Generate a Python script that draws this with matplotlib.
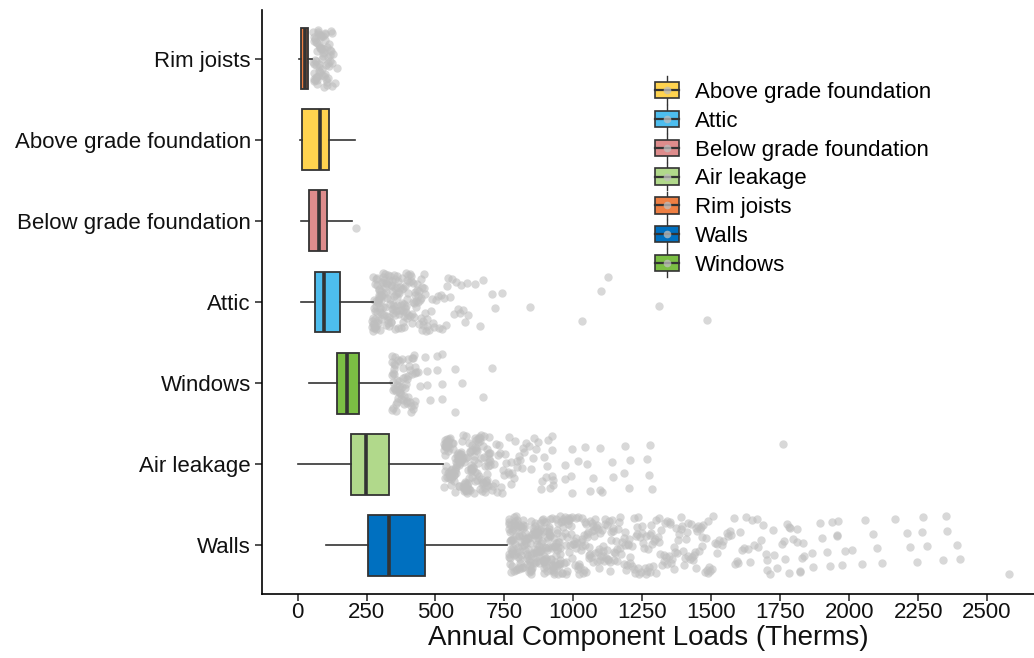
import numpy as np
import matplotlib.pyplot as plt
from matplotlib.patches import Rectangle, Patch
from matplotlib.lines import Line2D
from matplotlib.legend_handler import HandlerBase

plt.rcParams['font.family'] = ['Liberation Sans', 'DejaVu Sans']

# categories from bottom to top
components = ['Walls', 'Air leakage', 'Windows', 'Attic',
              'Below grade foundation', 'Above grade foundation', 'Rim joists']

# box summary (therms)
whisker_low = [102, 0, 43, 14, 13, 7, 4]
q1 = [257, 193, 142, 63, 40, 15, 12]
median = [333, 247, 178, 94, 77, 82, 28]
q3 = [461, 331, 224, 152, 108, 114, 37]
whisker_high = [761, 526, 341, 272, 198, 208, 54]

# points beyond the whiskers
walls_out = [
    768, 802, 777, 841, 790, 815, 772, 833, 796, 849, 781, 808, 765, 826, 799, 844, 786, 771, 812, 838,
    793, 779, 821, 805, 847, 767, 788, 830, 775, 817, 843, 798, 784, 810, 770, 836, 792, 823, 780, 846,
    801, 774, 828, 789, 813, 766, 840, 795, 819, 783, 834, 807, 776, 848, 791, 824, 769, 816, 803, 837,
    862, 915, 878, 951, 893, 987, 870, 934, 905, 968, 856, 922, 889, 975, 941, 867, 898, 959, 912, 881,
    996, 929, 853, 946, 874, 903, 962, 885, 937, 918, 990, 866, 951, 894, 979, 908, 858, 925, 943, 871,
    984, 899, 956, 915, 880, 933, 969, 862, 905, 948, 887, 992, 921, 874, 964, 939, 897, 856, 982, 910,
    928, 869, 953, 891, 973, 917, 944, 878, 998, 902, 960, 883, 936, 864, 977, 912, 949, 895, 926, 859,
    773, 809, 845, 787, 822, 765, 851, 798, 834, 779, 816, 862, 903, 877, 941, 892, 958, 869, 927, 985,
    914, 883, 966, 937, 855, 899, 972, 921, 861, 945, 888, 994, 906, 876, 953, 930, 868, 987, 918, 895,
    782, 827, 771, 839, 794, 811, 767, 848, 800, 825, 786, 842, 806, 775, 832, 797, 818, 780, 850, 804,
    879, 931, 865, 947, 901, 976, 884, 923, 957, 871, 939, 896, 981, 913, 860, 950, 890, 968, 907, 934,
    1008, 1052, 1031, 1087, 1015, 1068, 1043, 1096, 1022, 1075, 1004, 1058, 1036, 1091, 1012, 1064,
    1047, 1081, 1027, 1099, 1039, 1071, 1002, 1055, 1018, 1085, 1033, 1062, 1093, 1045, 1009, 1078,
    1024, 1067, 1050, 1089, 1016, 1041, 1073, 1029,
    1006, 1061, 1037, 1094, 1019, 1079, 1048, 1011, 1070, 1030, 1098, 1056,
    1112, 1168, 1135, 1214, 1149, 1238, 1103, 1186, 1127, 1223, 1161, 1197, 1118, 1245, 1142, 1176,
    1207, 1131, 1229, 1156, 1109, 1191, 1248, 1138, 1172, 1218, 1123, 1203, 1152, 1234, 1115, 1182,
    1146, 1211, 1164, 1241, 1106, 1195, 1129, 1226,
    1121, 1183, 1140, 1232, 1159, 1204, 1114, 1247, 1170, 1133, 1221, 1188, 1107, 1158, 1236, 1145,
    1199, 1126,
    1262, 1318, 1285, 1357, 1301, 1389, 1254, 1336, 1276, 1372, 1309, 1345, 1268, 1394, 1292, 1327,
    1363, 1281, 1381, 1314, 1258, 1349, 1296, 1377, 1273, 1332, 1306, 1368, 1287, 1352, 1264, 1398,
    1322, 1341, 1279,
    1271, 1338, 1299, 1384, 1256, 1354, 1312, 1283, 1366, 1329, 1390,
    1412, 1468, 1435, 1506, 1449, 1537, 1421, 1489, 1458, 1521, 1404, 1476, 1443, 1512, 1429, 1497,
    1462, 1544, 1417, 1483, 1452, 1528, 1438, 1502, 1471, 1409, 1519, 1446,
    1427, 1479, 1441, 1493, 1415, 1466, 1455, 1402, 1487,
    1562, 1611, 1587, 1648, 1573, 1632, 1598, 1664, 1556, 1619, 1641, 1581, 1605, 1670, 1593, 1626,
    1567, 1655,
    1701, 1713, 1725, 1756, 1768, 1780, 1810, 1834, 1828, 1822, 1786, 1812, 1836, 1820, 1782, 1762,
    1727, 1703, 1689, 1679, 1699, 1737, 1774, 1798, 1864, 1870, 1895, 1901, 1919, 1931, 1937, 1955,
    1985, 1973, 1961, 1957, 2009, 2046, 2058, 2088, 2100, 2118, 2166, 2209, 2221, 2245, 2266, 2263,
    2281, 2339, 2350, 2354, 2390, 2402, 2581,
]
air_out = [
    533, 571, 548, 602, 559, 615, 540, 589, 566, 607, 536, 580, 553, 619, 544, 596, 575, 531, 563, 611,
    550, 585, 538, 599, 569, 614, 546, 577, 557, 604, 534, 592, 561, 617, 542, 583, 573, 608, 551, 594,
    537, 566, 612, 545, 587, 556, 601, 532, 579, 548, 616, 564, 590, 541, 605,
    539, 576, 552, 609, 534, 593, 567, 620, 547, 583, 558, 603, 531, 572, 544, 598, 561, 613, 536, 586,
    543, 581, 618, 557, 597, 535, 571, 610, 549, 588,
    628, 671, 645, 693, 637, 682, 659, 624, 689, 651, 676, 633, 697, 664, 641, 685, 655, 622, 679, 648,
    691, 631, 668, 643, 699, 657, 626, 674, 639, 687, 662, 634, 695, 649, 681, 623, 666, 644, 692, 653,
    677, 629, 686, 660, 638,
    632, 669, 648, 690, 627, 673, 655, 696, 636, 684, 661, 625, 678, 642, 694, 652, 630, 688, 665, 646,
    712, 785, 741, 863, 756, 902, 724, 817, 772, 921, 705, 839, 795, 748, 881, 732, 806, 766, 915, 719,
    852, 779, 737, 828, 893, 762, 709, 871, 801, 744, 926, 789, 727, 846, 774, 907, 753, 812, 716, 858,
    733, 797, 887, 768, 822,
    905, 927, 921, 923, 970, 971, 994, 996, 1048, 1072, 1102, 1096, 1139, 1142, 1060, 1042, 1018, 993,
    1097, 1187, 1205, 1274, 1284, 1278, 1267, 1184, 1202, 1760,
]
windows_out = [
    343, 371, 356, 402, 348, 389, 362, 417, 345, 378, 395, 352, 428, 367, 384, 341, 409, 359, 374, 421,
    349, 392, 365, 413, 381, 346, 399, 357, 425, 369, 387, 344, 405, 361, 376, 418, 353, 396, 372, 347,
    350, 383, 366, 410, 342, 391, 358, 422, 373, 401, 345, 386, 363, 415, 354, 397, 377, 427, 348, 408,
    414, 438, 444, 426, 462, 468, 468, 480, 505, 505, 523, 523, 523, 571, 595, 674, 571, 704,
]
attic_out = [
    274, 318, 291, 352, 283, 337, 302, 366, 278, 325, 296, 345, 271, 311, 359, 288, 331, 306, 348, 280,
    322, 364, 294, 341, 276, 314, 357, 299, 329, 285, 368, 308, 339, 272, 319, 350, 290, 334, 303, 362,
    281, 327, 297, 346, 275, 316, 355, 293, 333, 310, 361, 284, 323, 300, 343, 277, 313, 353, 289, 336,
    305, 365, 282, 326, 298,
    279, 321, 295, 358, 286, 342, 307, 369, 273, 330, 301, 347, 292, 354, 312, 276, 338, 287, 363, 317,
    270, 309, 344, 283, 328, 360, 296, 335, 304, 351,
    378, 421, 395, 458, 384, 437, 409, 466, 373, 428, 401, 451, 389, 443, 414, 376, 432, 398, 461, 386,
    419, 447, 392, 469, 405, 436, 381, 454, 411, 427, 374, 440, 397, 463, 388, 416, 449, 402, 431, 383,
    380, 426, 393, 455, 412, 441, 375, 468, 399, 433, 387, 446, 408, 460, 379, 422, 394, 452, 417, 385,
    478, 541, 502, 619, 523, 594, 486, 567, 512, 644, 531, 589, 495, 613, 552, 482, 662, 574, 508, 601,
    537, 674, 519, 583, 491, 559, 704, 716, 606, 547,
    740, 841, 1030, 1127, 1100, 1311, 1484,
]
below_out = [212]
above_out = []
rim_out = [
    58, 84, 71, 103, 64, 92, 117, 77, 60, 98, 86, 112, 69, 123, 81, 57, 95, 74, 108, 66,
    89, 120, 79, 62, 101, 73, 115, 87, 59, 96, 70, 110, 83, 126, 65, 93, 76, 105, 61, 118,
    88, 72, 99, 130, 142, 134,
    63, 91, 78, 106, 58, 97, 114, 70, 85, 121, 67, 102, 80, 94, 60, 111, 75, 89, 124, 68,
    100, 82, 116, 73, 57,
]
outliers = [walls_out, air_out, windows_out, attic_out, below_out, above_out, rim_out]

colors = {
    'Above grade foundation': '#FFD34F',
    'Attic': '#4DBDEE',
    'Below grade foundation': '#DE8C8C',
    'Air leakage': '#B1D98B',
    'Rim joists': '#EE7F43',
    'Walls': '#0070C0',
    'Windows': '#7BBF44',
}
legend_order = ['Above grade foundation', 'Attic', 'Below grade foundation',
                'Air leakage', 'Rim joists', 'Walls', 'Windows']

edge = '#333333'
point_col = '#BEBEBE'


def jitter(n, start):
    # evenly spread vertical offsets
    k = np.arange(n)
    return ((k * 0.7548776662 + start) % 1.0 - 0.5) * 0.72


class BoxKey(HandlerBase):
    def create_artists(self, legend, orig_handle, xdescent, ydescent,
                       width, height, fontsize, trans):
        x0, y0 = -xdescent, -ydescent
        cx, cy = x0 + width / 2, y0 + height / 2
        whisk = Line2D([cx, cx], [y0 - 0.35 * height, y0 + 1.35 * height],
                       color=edge, lw=1.0, transform=trans)
        box = Rectangle((x0, y0), width, height, facecolor=orig_handle.get_facecolor(),
                        edgecolor=edge, lw=1.2, transform=trans)
        med = Line2D([x0, x0 + width], [cy, cy], color=edge, lw=1.6, transform=trans)
        dot = Line2D([cx], [cy], marker='o', ms=5.5, color=point_col, alpha=0.75,
                     mew=0, transform=trans)
        return [whisk, box, med, dot]


fig = plt.figure(figsize=(10.34, 6.58), dpi=100)
ax = fig.add_axes([262 / 1034, 64 / 658, 772 / 1034, 584 / 658])

ypos = np.arange(1, len(components) + 1)

for i, (y, pts) in enumerate(zip(ypos, outliers)):
    if len(pts) == 0:
        continue
    ax.scatter(pts, y + jitter(len(pts), 0.9 + 0.37 * i), s=36, color=point_col,
               alpha=0.6, linewidths=0, zorder=1)

stats = []
for name, lo, a, m, b, hi in zip(components, whisker_low, q1, median, q3, whisker_high):
    stats.append(dict(label=name, whislo=lo, q1=a, med=m, q3=b, whishi=hi, fliers=[]))

bp = ax.bxp(stats, positions=ypos, widths=0.75, orientation='horizontal',
            patch_artist=True, showcaps=False, showfliers=False,
            boxprops=dict(edgecolor=edge, linewidth=1.3),
            whiskerprops=dict(color=edge, linewidth=1.2),
            medianprops=dict(color=edge, linewidth=2.6, solid_capstyle='butt'))
for patch, name in zip(bp['boxes'], components):
    patch.set_facecolor(colors[name])
    patch.set_zorder(2)

ax.set_xlim(-129, 2670)
ax.set_ylim(0.4, len(components) + 0.6)
ax.set_xticks(np.arange(0, 2501, 250))
ax.set_yticks(ypos)
ax.set_yticklabels(components)
ax.tick_params(axis='both', labelsize=16, length=5, width=1.1, color='#222222',
               labelcolor='#111111', pad=3)
ax.tick_params(axis='x', pad=1)
for side in ['top', 'right']:
    ax.spines[side].set_visible(False)
for side in ['left', 'bottom']:
    ax.spines[side].set_linewidth(1.2)
ax.set_xlabel('Annual Component Loads (Therms)', fontsize=20, color='#111111', labelpad=1)

handles = [Patch(facecolor=colors[n]) for n in legend_order]
ax.legend(handles, legend_order, handler_map={Patch: BoxKey()},
          loc='upper left', bbox_to_anchor=(655 / 1034, 1 - 82 / 658),
          bbox_transform=fig.transFigure, frameon=False, fontsize=16,
          handlelength=1.1, handleheight=0.75, handletextpad=0.7,
          labelspacing=0.35, borderpad=0, borderaxespad=0)

fig.savefig('out.png', dpi=100)
